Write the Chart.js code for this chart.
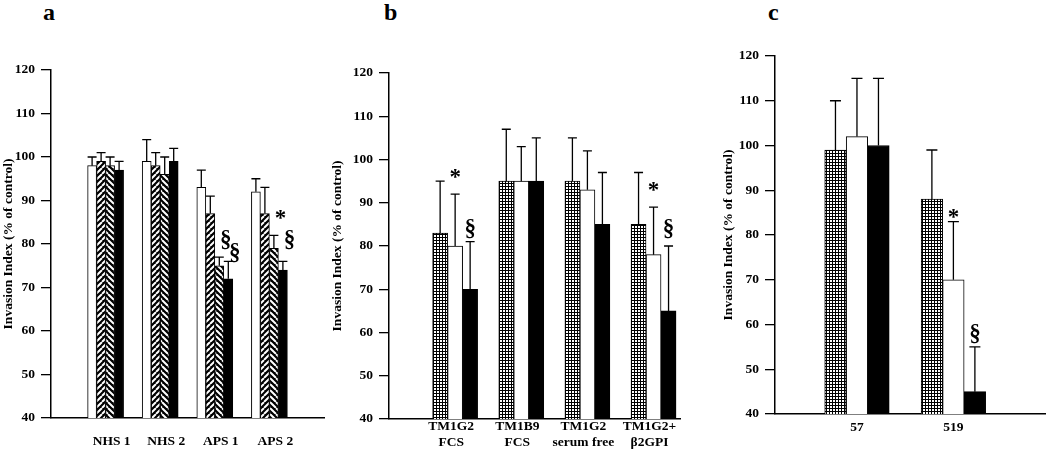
<!DOCTYPE html>
<html>
<head>
<meta charset="utf-8">
<script src="https://cdn.jsdelivr.net/npm/chart.js@4.4.1/dist/chart.umd.min.js"></script>
<style>
  html, body { margin: 0; padding: 0; background: #fff; }
  body { width: 1050px; height: 451px; position: relative; overflow: hidden; }
  canvas { position: absolute; top: 0; }
  .tag { position: absolute; top: 0; font: bold 24px "Liberation Serif", serif; line-height: 24px; color: #000; }
</style>
</head>
<body>
<div class="tag" style="left:43px">a</div>
<div class="tag" style="left:384px">b</div>
<div class="tag" style="left:768px">c</div>
<canvas id="chart-a" width="340" height="451" style="left:0px"></canvas>
<canvas id="chart-b" width="362" height="451" style="left:325px"></canvas>
<canvas id="chart-c" width="338" height="451" style="left:712px"></canvas>
<script>
// panel a
const groupsA = ["NHS 1", "NHS 2", "APS 1", "APS 2"];
const whiteA = [98, 99, 93, 92];
const whiteErrA = [2, 5, 4, 3];
const risingA = [99, 98, 87, 87];
const risingErrA = [2, 3, 4, 6];
const fallingA = [98, 96, 75, 79];
const fallingErrA = [2, 4, 2, 3];
const blackA = [97, 99, 72, 74];
const blackErrA = [2, 3, 4, 2];
// [group, series, symbol, value]
const marksA = [[2, 2, "§", 81], [2, 3, "§", 78], [3, 2, "*", 87], [3, 3, "§", 81]];

// panel b
const groupsB = [["TM1G2", "FCS"], ["TM1B9", "FCS"], ["TM1G2", "serum free"], ["TM1G2+", "β2GPI"]];
const gridB = [83, 95, 95, 85];
const gridErrB = [12, 12, 10, 12];
const whiteB = [80, 95, 93, 78];
const whiteErrB = [12, 8, 9, 11];
const blackB = [70, 95, 85, 65];
const blackErrB = [11, 10, 12, 15];
const marksB = [[0, 1, "*", 97], [0, 2, "§", 84], [3, 1, "*", 94], [3, 2, "§", 84]];

// panel c
const groupsC = ["57", "519"];
const gridC = [99, 88];
const gridErrC = [11, 11];
const whiteC = [102, 70];
const whiteErrC = [13, 13];
const blackC = [100, 45];
const blackErrC = [15, 10];
const marksC = [[1, 1, "*", 85], [1, 2, "§", 58]];

const yMin = 40, yMax = 120, yStep = 10;
const yTitle = "Invasion Index (% of control)";

Chart.defaults.font.family = "'Liberation Serif', 'Times New Roman', serif";
Chart.defaults.font.weight = "bold";
Chart.defaults.color = "#000";

function tile(n, paint) {
  const c = document.createElement("canvas");
  c.width = n; c.height = n;
  const g = c.getContext("2d");
  paint(g, n);
  return g.createPattern(c, "repeat");
}

const checker = tile(3, (g, n) => {
  g.fillStyle = "#fff"; g.fillRect(0, 0, n, n);
  g.fillStyle = "#000"; g.fillRect(0, 0, n, 1); g.fillRect(0, 0, 1, n);
});

function stripes(rising) {
  return tile(6, (g, n) => {
    g.fillStyle = "#000"; g.fillRect(0, 0, n, n);
    g.strokeStyle = "#fff"; g.lineWidth = 2;
    g.beginPath();
    for (let k = -1; k <= 1; k++) {
      if (rising) { g.moveTo(k * n, n); g.lineTo(k * n + n, 0); }
      else { g.moveTo(k * n, 0); g.lineTo(k * n + n, n); }
    }
    g.stroke();
  });
}

const errorBars = {
  id: "errorBars",
  afterDatasetsDraw(chart, args, opts) {
    const ctx = chart.ctx;
    const y = chart.scales.y;
    ctx.save();
    ctx.strokeStyle = "#000";
    ctx.lineWidth = 1.3;
    chart.data.datasets.forEach((ds, i) => {
      chart.getDatasetMeta(i).data.forEach((bar, j) => {
        const top = y.getPixelForValue(ds.data[j].y + ds.errors[j]);
        ctx.beginPath();
        ctx.moveTo(bar.x, bar.y);
        ctx.lineTo(bar.x, top);
        ctx.moveTo(bar.x - opts.cap / 2, top);
        ctx.lineTo(bar.x + opts.cap / 2, top);
        ctx.stroke();
      });
    });
    // significance symbols
    const size = 23;
    ctx.fillStyle = "#000";
    ctx.textAlign = "center";
    ctx.textBaseline = "alphabetic";
    ctx.font = "bold " + size + "px 'Liberation Serif', serif";
    opts.marks.forEach(([g, s, sym, v]) => {
      const bar = chart.getDatasetMeta(s).data[g];
      const x = opts.beside ? bar.x + bar.width / 2 + 2 : bar.x;
      const shift = sym === "*" ? 0.5 : 0.27;
      ctx.fillText(sym, x, y.getPixelForValue(v) + shift * size);
    });
    ctx.restore();
  }
};

function makePanel(id, cfg) {
  return new Chart(document.getElementById(id), {
    type: "bar",
    data: {
      datasets: cfg.series.map((s) => ({
        data: s.values.map((v, i) => ({ x: i + 1, y: v })),
        errors: s.errors,
        backgroundColor: s.fill,
        borderColor: "#000",
        borderWidth: 1,
        barThickness: cfg.barWidth,
      })),
    },
    options: {
      responsive: false,
      animation: false,
      layout: { padding: { left: cfg.padLeft, right: cfg.padRight, top: cfg.top, bottom: 0 } },
      scales: {
        x: {
          type: "linear",
          offset: false,
          min: cfg.xMin,
          max: cfg.xMax,
          grid: { display: false, drawTicks: false, offset: false },
          border: { color: "#000", width: 1.5 },
          ticks: {
            stepSize: 1,
            includeBounds: false,
            autoSkip: false,
            maxRotation: 0,
            padding: cfg.labelPad,
            labelOffset: cfg.labelShift,
            font: { size: 13.5, lineHeight: 1.15 },
            callback: (v) => (Number.isInteger(v) && cfg.labels[v - 1]) || "",
          },
          afterFit: (scale) => { scale.height = cfg.xHeight; },
        },
        y: {
          min: yMin,
          max: yMax,
          grid: { drawOnChartArea: false, drawTicks: true, tickLength: 10, color: "#000", lineWidth: 1.3 },
          border: { color: "#000", width: 1.5 },
          ticks: { stepSize: yStep, padding: 6, font: { size: 13.5 } },
          title: { display: true, text: yTitle, padding: 0, font: { size: 13.5 } },
          afterFit: (scale) => { scale.width = cfg.yWidth; },
        },
      },
      plugins: {
        legend: { display: false },
        tooltip: { enabled: false },
        errorBars: { cap: cfg.cap, marks: cfg.marks, beside: cfg.beside },
      },
    },
    plugins: [errorBars],
  });
}

makePanel("chart-a", {
  labels: groupsA,
  series: [
    { values: whiteA, errors: whiteErrA, fill: "#fff" },
    { values: risingA, errors: risingErrA, fill: stripes(true) },
    { values: fallingA, errors: fallingErrA, fill: stripes(false) },
    { values: blackA, errors: blackErrA, fill: "#000" },
  ],
  marks: marksA, beside: true, cap: 9, barWidth: 9,
  xMin: 0, xMax: 5, padLeft: 0, padRight: 4, top: 70,
  yWidth: 51, xHeight: 33, labelPad: 16, labelShift: 6,
});

makePanel("chart-b", {
  labels: groupsB,
  series: [
    { values: gridB, errors: gridErrB, fill: checker },
    { values: whiteB, errors: whiteErrB, fill: "#fff" },
    { values: blackB, errors: blackErrB, fill: "#000" },
  ],
  marks: marksB, beside: false, cap: 9, barWidth: 15,
  xMin: 0, xMax: 4.4, padLeft: 4, padRight: 7, top: 73,
  yWidth: 60, xHeight: 32, labelPad: 0, labelShift: -4,
});

makePanel("chart-c", {
  labels: groupsC,
  series: [
    { values: gridC, errors: gridErrC, fill: checker },
    { values: whiteC, errors: whiteErrC, fill: "#fff" },
    { values: blackC, errors: blackErrC, fill: "#000" },
  ],
  marks: marksC, beside: false, cap: 11, barWidth: 21.5,
  xMin: 0.15, xMax: 2.95, padLeft: 8, padRight: 5, top: 56,
  yWidth: 55, xHeight: 37, labelPad: 6, labelShift: 0,
});
</script>
</body>
</html>
